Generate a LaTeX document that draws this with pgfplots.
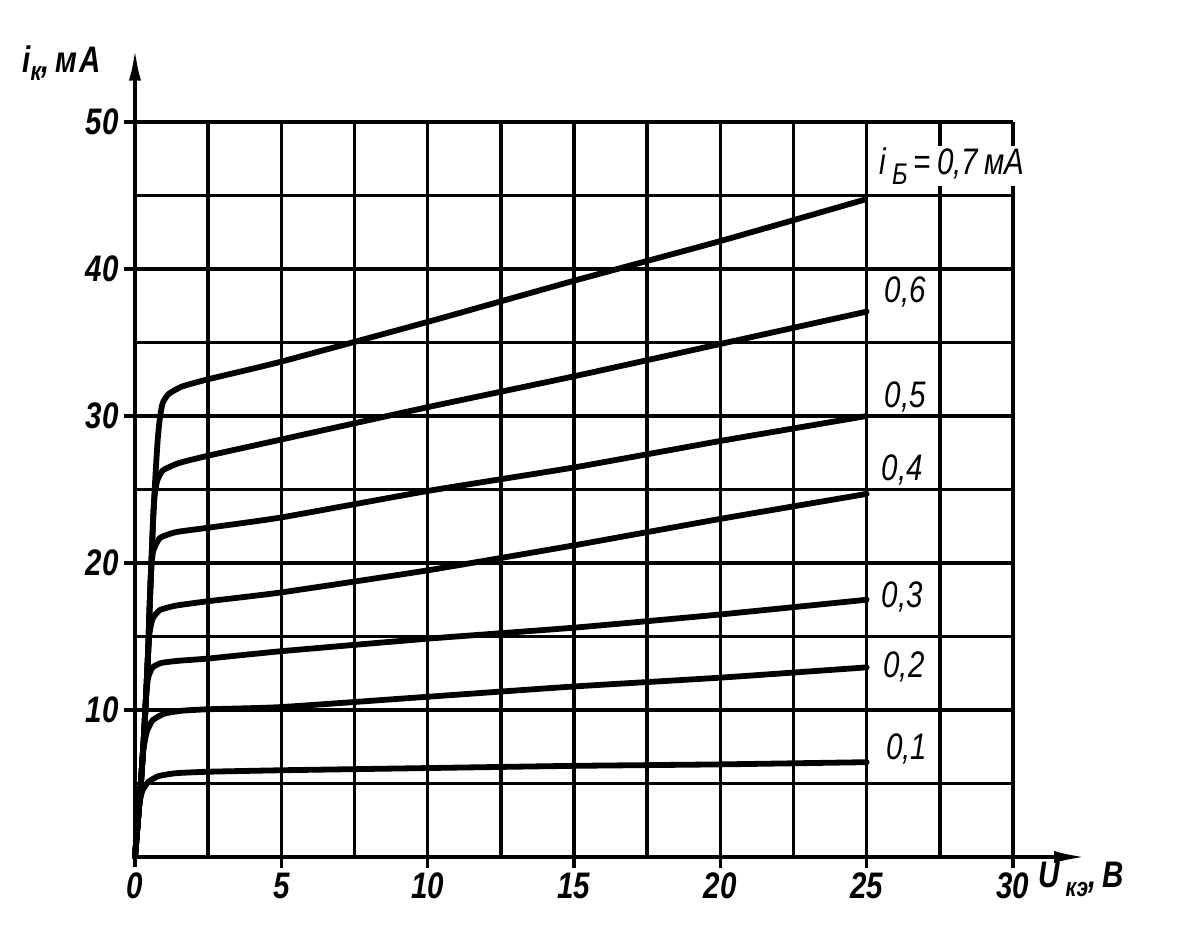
\documentclass[border=0pt]{standalone}
\usepackage{fontspec}
\setmainfont{Liberation Sans}[FakeStretch=0.8]
\usepackage{pgfplots}
\pgfplotsset{compat=1.18}
\usetikzlibrary{arrows.meta}
\newcommand{\lbl}{\itshape\fontsize{21}{24}\selectfont}
\newcommand{\tlbl}{\bfseries\itshape\fontsize{21}{24}\selectfont}
\newcommand{\sub}{\fontsize{15}{16}\selectfont}
\begin{document}
\begin{tikzpicture}[x=1cm,y=1cm]
\useasboundingbox (-2.7,-1.4) rectangle (21.08,17.14);
\begin{axis}[
  at={(0,0)}, anchor=south west,
  scale only axis, width=17.56cm, height=14.7cm,
  xmin=0, xmax=30, ymin=0, ymax=50,
  axis lines=left, axis line style={-, line width=2.6pt},
  xtick={0,5,...,30}, ytick={10,20,...,50},
  minor xtick={2.5,7.5,...,27.5}, minor ytick={5,15,...,45},
  grid=both,
  major grid style={black, line width=1.9pt},
  minor grid style={black, line width=1.9pt},
  tick align=outside, major tick length=0.2cm, minor tick length=0pt,
  tick style={black, line width=1.9pt},
  ticklabel style={font=\tlbl},
  /pgf/number format/assume math mode=true,
  clip=false,
  every axis plot/.append style={line width=3.3pt, black, mark=none, line cap=round, line join=round},
]
% i_B = 0.7 mA
\addplot[smooth, tension=0.3] coordinates {(0,0) (0.1,2.5) (0.2,5) (0.3,8) (0.38,11) (0.45,14) (0.5,17) (0.56,20) (0.62,23) (0.7,26) (0.78,28.5) (0.86,30) (0.95,30.9) (1.15,31.5) (1.6,32.0) (2.5,32.5) (5,33.7) (10,36.4) (15,39.2) (20,41.9) (24.9,44.7)};
% 0.6
\addplot[smooth, tension=0.3] coordinates {(0,0) (0.1,2.5) (0.2,5) (0.3,8) (0.38,11) (0.45,14) (0.5,17) (0.56,20) (0.62,23) (0.67,24.6) (0.76,25.6) (0.95,26.3) (1.5,26.8) (2.5,27.3) (5,28.4) (10,30.6) (15,32.7) (20,34.9) (25,37.1)};
% 0.5
\addplot[smooth, tension=0.3] coordinates {(0,0) (0.1,2.5) (0.2,5) (0.3,8) (0.38,11) (0.45,14) (0.5,17) (0.55,19.5) (0.62,20.8) (0.85,21.7) (1.4,22.1) (2.5,22.4) (5,23.1) (10,24.9) (15,26.5) (20,28.3) (25,30.0)};
% 0.4
\addplot[smooth, tension=0.3] coordinates {(0,0) (0.1,2.5) (0.2,5) (0.3,8) (0.38,11) (0.45,14) (0.5,15.3) (0.6,16.2) (0.85,16.8) (1.4,17.1) (2.5,17.4) (5,18.0) (10,19.5) (15,21.2) (20,23.0) (25,24.7)};
% 0.3
\addplot[smooth, tension=0.3] coordinates {(0,0) (0.1,2.5) (0.2,5) (0.3,8) (0.38,11) (0.45,12.2) (0.6,12.9) (0.9,13.2) (1.5,13.35) (2.5,13.5) (5,14.0) (10,14.85) (15,15.6) (20,16.5) (25,17.5)};
% 0.2
\addplot[smooth, tension=0.3] coordinates {(0,0) (0.1,2.5) (0.2,5) (0.28,7.2) (0.4,8.5) (0.6,9.3) (1.0,9.75) (1.6,9.95) (2.5,10.05) (5,10.2) (10,10.9) (15,11.6) (20,12.2) (25,12.9)};
% 0.1
\addplot[smooth, tension=0.3] coordinates {(0,0) (0.08,2) (0.15,3.6) (0.25,4.5) (0.45,5.1) (0.8,5.5) (1.4,5.7) (2.5,5.8) (5,5.9) (10,6.05) (15,6.2) (20,6.3) (25,6.45)};
% tick marks
\pgfplotsinvokeforeach{5,10,15,20,25,30}{\draw[line width=1.9pt] (axis cs:#1,0) -- ([yshift=-6.5pt]axis cs:#1,0);}
\pgfplotsinvokeforeach{10,20,30,40,50}{\draw[line width=1.9pt] (axis cs:0,#1) -- ([xshift=-6.5pt]axis cs:0,#1);}
% axis arrows
\draw[line width=2.6pt, -{Latex[length=0.7cm,width=0.24cm]}] (axis cs:0,0) -- (axis cs:32.6,0);
\draw[line width=2.6pt, -{Latex[length=0.7cm,width=0.24cm]}] (axis cs:0,0) -- (axis cs:0,55.2);
% axis labels
\node[anchor=base west, font=\tlbl, inner sep=0pt] at (axis cs:-3.86,53.4) {i\raisebox{-0.45ex}{\sub к},\,м\kern1ptА};
\node[anchor=base west, font=\tlbl, inner sep=0pt] at (axis cs:30.85,-2.05) {U\,\raisebox{-0.5ex}{\sub кэ},\,В};
% curve labels
\node[anchor=base west, font=\lbl, fill=white, inner sep=1pt] at (axis cs:25.35,46.4) {i\raisebox{-0.5ex}{\fontsize{17}{18}\selectfont\ Б}\,=\,0,7\,мА};
\node[anchor=base west, font=\lbl, fill=white, inner sep=1pt] at (axis cs:25.55,37.75) {0,6};
\node[anchor=base west, font=\lbl, fill=white, inner sep=1pt] at (axis cs:25.55,30.6) {0,5};
\node[anchor=base west, font=\lbl, fill=white, inner sep=1pt] at (axis cs:25.45,25.6) {0,4};
\node[anchor=base west, font=\lbl, fill=white, inner sep=1pt] at (axis cs:25.45,17.0) {0,3};
\node[anchor=base west, font=\lbl, fill=white, inner sep=1pt] at (axis cs:25.5,12.2) {0,2};
\node[anchor=base west, font=\lbl, fill=white, inner sep=1pt] at (axis cs:25.6,6.6) {0,1};
\end{axis}
\end{tikzpicture}
\end{document}
